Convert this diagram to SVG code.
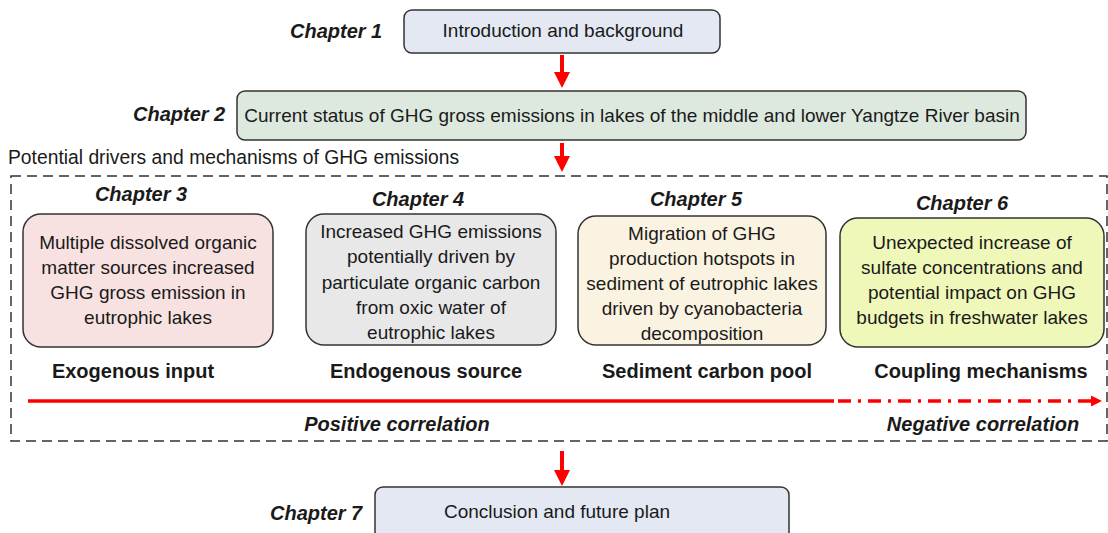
<svg xmlns="http://www.w3.org/2000/svg" width="1108" height="533" viewBox="0 0 1108 533">
<style>
text{font-family:"Liberation Sans",Arial,sans-serif;fill:#1a1a1a}
.ch{font-weight:bold;font-style:italic;font-size:20px}
.bt{font-size:19px;text-anchor:middle}
.cat{font-weight:bold;font-size:20px;text-anchor:middle}
.box{stroke:#333;stroke-width:1.5}
.arr{stroke:#ff0000;stroke-width:4;fill:none}
</style>
<defs>
<marker id="ah" markerWidth="4" markerHeight="4" refX="1" refY="2" orient="auto" markerUnits="strokeWidth">
<path d="M0,0 L4,2 L0,4 Z" fill="#ff0000"/>
</marker>
</defs>
<rect width="1108" height="533" fill="#fff"/>

<g id="frame">
<rect x="11" y="176" width="1096" height="265" fill="none" stroke="#333" stroke-width="1.5" stroke-dasharray="10,6"/>
<text x="8" y="164" font-size="19.3">Potential drivers and mechanisms of GHG emissions</text>
</g>

<g id="connectors">
<path class="arr" d="M562,55 V76" marker-end="url(#ah)"/>
<path class="arr" d="M562,143 V160" marker-end="url(#ah)"/>
<path class="arr" d="M562,451 V474" marker-end="url(#ah)"/>
<path d="M28,401 H834" stroke="#ff0000" stroke-width="3.5"/>
<path d="M838,401 H1092" stroke="#ff0000" stroke-width="3.5" stroke-dasharray="13,7,3,7"/>
<path d="M1091,395.5 L1102,401 L1091,406.5 Z" fill="#ff0000"/>
</g>

<g id="ch1">
<text class="ch" x="290" y="38">Chapter 1</text>
<rect class="box" x="404" y="10" width="316" height="43" rx="8" fill="#e4e8f2"/>
<text class="bt" x="563" y="37">Introduction and background</text>
</g>

<g id="ch2">
<text class="ch" x="133" y="121">Chapter 2</text>
<rect class="box" x="237" y="91" width="789" height="49" rx="8" fill="#dde9de"/>
<text class="bt" x="632" y="122">Current status of GHG gross emissions in lakes of the middle and lower Yangtze River basin</text>
</g>

<g id="ch3">
<text class="ch" x="141" y="201" text-anchor="middle">Chapter 3</text>
<rect class="box" x="23" y="214" width="250" height="133" rx="18" fill="#f8e1e1"/>
<text class="bt" x="148" y="249">Multiple dissolved organic</text>
<text class="bt" x="148" y="274">matter sources increased</text>
<text class="bt" x="148" y="299">GHG gross emission in</text>
<text class="bt" x="148" y="324">eutrophic lakes</text>
<text class="cat" x="133" y="378">Exogenous input</text>
</g>

<g id="ch4">
<text class="ch" x="418" y="206" text-anchor="middle">Chapter 4</text>
<rect class="box" x="306" y="214" width="250" height="131" rx="18" fill="#e8e8e8"/>
<text class="bt" x="431" y="238">Increased GHG emissions</text>
<text class="bt" x="431" y="263">potentially driven by</text>
<text class="bt" x="431" y="289">particulate organic carbon</text>
<text class="bt" x="431" y="314">from oxic water of</text>
<text class="bt" x="431" y="339">eutrophic lakes</text>
<text class="cat" x="426" y="378">Endogenous source</text>
</g>

<g id="ch5">
<text class="ch" x="696" y="206" text-anchor="middle">Chapter 5</text>
<rect class="box" x="578" y="216" width="248" height="129" rx="18" fill="#fbf3e1"/>
<text class="bt" x="702" y="240">Migration of GHG</text>
<text class="bt" x="702" y="265">production hotspots in</text>
<text class="bt" x="702" y="290">sediment of eutrophic lakes</text>
<text class="bt" x="702" y="315">driven by cyanobacteria</text>
<text class="bt" x="702" y="340">decomposition</text>
<text class="cat" x="707" y="378">Sediment carbon pool</text>
</g>

<g id="ch6">
<text class="ch" x="962" y="210" text-anchor="middle">Chapter 6</text>
<rect class="box" x="840" y="218" width="264" height="129" rx="18" fill="#eff8b9"/>
<text class="bt" x="972" y="249">Unexpected increase of</text>
<text class="bt" x="972" y="274">sulfate concentrations and</text>
<text class="bt" x="972" y="299">potential impact on GHG</text>
<text class="bt" x="972" y="324">budgets in freshwater lakes</text>
<text class="cat" x="981" y="378">Coupling mechanisms</text>
</g>

<g id="corr">
<text class="ch" x="397" y="431" text-anchor="middle">Positive correlation</text>
<text class="ch" x="983" y="431" text-anchor="middle">Negative correlation</text>
</g>

<g id="ch7">
<text class="ch" x="270" y="520">Chapter 7</text>
<rect class="box" x="375" y="487" width="414" height="60" rx="8" fill="#e4e8f2"/>
<text class="bt" x="557" y="518">Conclusion and future plan</text>
</g>
</svg>
